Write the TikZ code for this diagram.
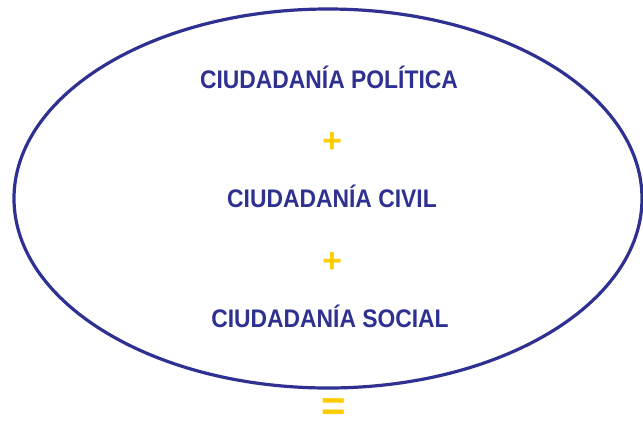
\documentclass[tikz,border=0pt]{standalone}
\usepackage{fontspec}
\newfontfamily\tfont{Liberation Sans}[FakeStretch=0.9]
\newfontfamily\sfont{Liberation Sans}
\definecolor{cblue}{HTML}{2E3192}
\definecolor{cyel}{HTML}{FFCC00}
\tikzset{
  title/.style={inner sep=0pt, anchor=base, text=cblue, font=\tfont\bfseries\fontsize{25.4}{30}\selectfont},
  op/.style={inner sep=0pt, anchor=center, text=cyel, font=\sfont\bfseries\fontsize{34}{40}\selectfont},
  eq/.style={inner sep=0pt, anchor=center, text=cyel, font=\sfont\bfseries\fontsize{42}{50}\selectfont},
  ring/.style={draw=cblue, line width=3.2pt}
}
\begin{document}
\begin{tikzpicture}[x=1pt,y=-1pt]
\useasboundingbox (0,0) rectangle (643,421);
\clip (0,0) rectangle (643,421);
\draw[ring] (328,198.5) ellipse [x radius=314, y radius=189.5];
\node[title] (pol) at (329,88) {CIUDADANÍA POLÍTICA};
\node[op] (p1) at (332,143) {+};
\node[title] (civ) at (332,207) {CIUDADANÍA CIVIL};
\node[op] (p2) at (332,263) {+};
\node[title] (soc) at (330,327) {CIUDADANÍA SOCIAL};
\node[eq] (eqs) at (334,410) {=};
\end{tikzpicture}
\end{document}
